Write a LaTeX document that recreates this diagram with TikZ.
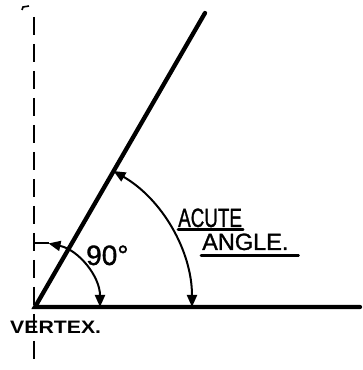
\documentclass[tikz,border=0pt]{standalone}
\usepackage{fontspec}
\usepackage{graphicx}
\setmainfont{Liberation Sans}
\newfontfamily\handfont[FakeBold=1.2]{Liberation Sans}
\usetikzlibrary{arrows.meta,calc}
\begin{document}
\begin{tikzpicture}[x=1pt,y=1pt,
  heavyline/.style={line width=4.3pt,line cap=round},
  guideline/.style={line width=2.4pt,dash pattern=on 18pt off 9pt},
  arcarrow/.style={line width=2pt,{Triangle[length=12pt,width=10pt]}-{Triangle[length=12pt,width=10pt]}},
  lettering/.style={inner sep=0pt,anchor=base west,text=black},
  underbar/.style={line width=2.6pt,line cap=round}]
\useasboundingbox (0,0) rectangle (362,370);
% points
\coordinate (V) at (35,63);
\coordinate (H) at (360,63);
\coordinate (T) at (205,357);
\coordinate (DT) at (34,353);
\coordinate (DB) at (34,3);
% dashed guide
\draw[guideline] (DT) -- (DB);
\draw[line width=1.6pt] (22,360) -- (23,363) -- (29,364);
% arms
\draw[heavyline] (H) -- (V) -- (T);
% 90 degree arc
\coordinate (A1) at ($(V)+(78:65)$);
\coordinate (A1d) at (A1 -| DT);
\draw[line width=2pt] (A1d) -- (A1);
\draw[arcarrow] (A1) arc[start angle=78,end angle=0,radius=65];
% acute arc
\coordinate (A2) at ($(V)+(60:157)$);
\draw[arcarrow] (A2) arc[start angle=60,end angle=0,radius=157];
% labels
\node[lettering,font=\handfont\fontsize{28}{28}\selectfont] (ninety) at (86,105) {90°};
\node[lettering,font=\handfont\fontsize{26.5}{26.5}\selectfont] (acute) at (178,143) {\scalebox{0.71}[1]{ACUTE}};
\node[lettering,font=\handfont\fontsize{23.5}{23.5}\selectfont] (angle) at (202,120) {ANGLE.};
\node[lettering,font=\fontsize{18}{18}\selectfont\bfseries] (vertex) at (10,37) {\scalebox{1.18}[1]{VERTEX.}};
\draw[underbar] ($(acute.south west)+(0,-2)$) -- ($(acute.south east)+(1,-2)$);
\draw[underbar] ($(angle.south west)+(-1,-5)$) -- ($(angle.south east)+(10,-5)$);
\end{tikzpicture}
\end{document}
